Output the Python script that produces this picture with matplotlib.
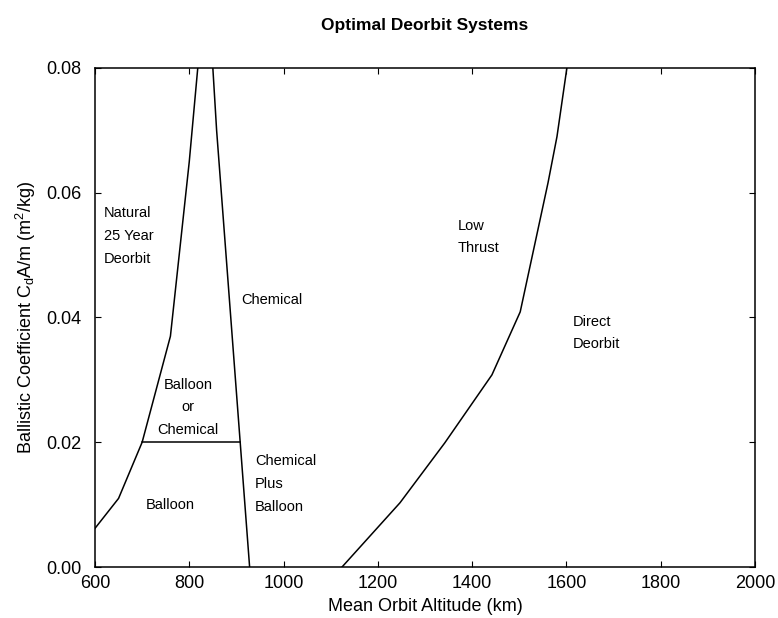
import matplotlib.pyplot as plt

plt.rcParams['font.family'] = ['Liberation Sans', 'DejaVu Sans']
plt.rcParams['mathtext.fontset'] = 'custom'
plt.rcParams['mathtext.rm'] = 'Liberation Sans'
plt.rcParams['mathtext.it'] = 'Liberation Sans'

# Boundary curves (altitude km, ballistic coefficient m^2/kg)
natural_x = [600, 650, 700, 760, 800, 818]
natural_y = [0.0062, 0.011, 0.020, 0.037, 0.065, 0.080]

chemical_x = [850, 858, 908, 928]
chemical_y = [0.080, 0.070, 0.020, 0.000]

split_x = [700, 908]
split_y = [0.020, 0.020]

thrust_x = [1124, 1247, 1342, 1442, 1502, 1561, 1580, 1601]
thrust_y = [0.000, 0.0103, 0.0199, 0.0308, 0.0409, 0.0616, 0.069, 0.080]

# Region labels
labels = ["Natural\n25 Year\nDeorbit", "Chemical", "Balloon\nor\nChemical",
          "Balloon", "Chemical\nPlus\nBalloon", "Low\nThrust", "Direct\nDeorbit"]
label_x = [619, 910, 797, 760, 939, 1370, 1614]
label_y = [0.0531, 0.0428, 0.0256, 0.0099, 0.0133, 0.0529, 0.0375]
label_ha = ["left", "left", "center", "center", "left", "left", "left"]

fig = plt.figure(figsize=(7.78, 6.18), dpi=100)
ax = fig.add_axes([0.1221, 0.0825, 0.8483, 0.8075])

for xs, ys in [(natural_x, natural_y), (chemical_x, chemical_y),
               (split_x, split_y), (thrust_x, thrust_y)]:
    ax.plot(xs, ys, color="black", lw=1.1)

for t, x, y, ha in zip(labels, label_x, label_y, label_ha):
    ax.text(x, y, t, ha=ha, va="center", fontsize=10.5, linespacing=1.8,
            multialignment="center" if ha == "center" else "left")

ax.set_xlim(600, 2000)
ax.set_ylim(0, 0.08)
ax.set_xticks([600, 800, 1000, 1200, 1400, 1600, 1800, 2000])
ax.set_yticks([0.0, 0.02, 0.04, 0.06, 0.08])
ax.set_yticklabels(["0.00", "0.02", "0.04", "0.06", "0.08"])
ax.tick_params(direction="in", length=4, top=True, right=True, labelsize=13)
ax.tick_params(axis="y", pad=10)
ax.tick_params(axis="x", pad=6)
for s in ax.spines.values():
    s.set_linewidth(1.1)

ax.set_xlabel("Mean Orbit Altitude (km)", fontsize=13, labelpad=4)
ax.set_ylabel("Ballistic Coefficient C$_d$A/m (m$^2$/kg)", fontsize=13, labelpad=6)
ax.set_title("Optimal Deorbit Systems", fontsize=12.5, fontweight="bold", pad=27)

plt.savefig("out.png", dpi=100)
